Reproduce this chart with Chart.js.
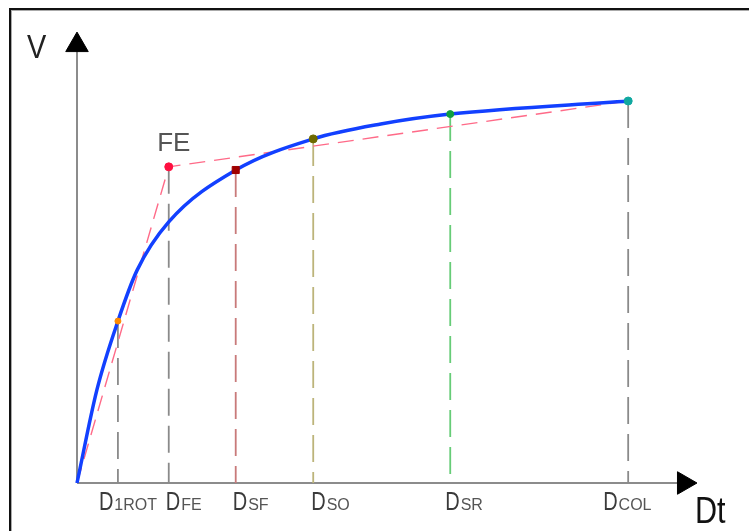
<!DOCTYPE html>
<html>
<head>
<meta charset="utf-8">
<script src="https://cdn.jsdelivr.net/npm/chart.js@4/dist/chart.umd.min.js"></script>
<style>
  html, body { margin: 0; padding: 0; background: #fff; }
  #wrap { position: relative; width: 749px; height: 531px; overflow: hidden; }
  #frame { position: absolute; left: 9px; top: 8px; width: 800px; height: 600px;
           border-top: 2px solid #111; border-left: 2px solid #111; pointer-events: none;
           box-shadow: inset 1px 1px 0 #aaa; }
  canvas { position: absolute; left: 0; top: 0; }
</style>
</head>
<body>
<div id="wrap">
  <canvas id="c" width="749" height="531"></canvas>
  <div id="frame"></div>
</div>
<script>
// ---- data (x: displacement Dt, y: shear V, arbitrary units 0..100) ----
const stageNames = ['1ROT', 'FE', 'SF', 'SO', 'SR', 'COL'];
const stageX     = [6.6, 14.8, 25.6, 38.1, 60.2, 88.9];
const stageV     = [35.9, 70.1, 69.4, 76.3, 81.8, 84.7];

const curveX = [0, 3.2, 6.6, 9.7, 14.8, 25.6, 38.1, 49.0, 60.2, 88.9];
const curveV = [0, 20.6, 35.9, 47.2, 57.9, 69.4, 76.3, 79.6, 81.8, 84.7];

const bilinearX = [0, 14.8, 88.9];
const bilinearV = [0, 70.1, 84.7];

const axisLabelX = 'Dt';
const axisLabelY = 'V';
const peakLabel = 'FE';

// ---- styles ----
const pointColors = ['#ff8a00', '#ff1040', '#a00000', '#6e6a00', '#10a040', '#10a8a0'];
const pointStyles = ['circle', 'circle', 'rect', 'circle', 'circle', 'circle'];
const pointSizes  = [3, 4, 5, 4, 3.5, 4];
const dropColors  = ['#8a8a8a', '#8a8a8a', '#c87a7a', '#bcb47a', '#66cc77', '#8a8a8a'];

const toXY = (xs, ys) => xs.map((x, i) => ({ x, y: ys[i] }));

const datasets = [];
// markers (drawn on top)
datasets.push({
  data: toXY(stageX, stageV), showLine: false, clip: false,
  pointStyle: pointStyles, pointRadius: pointSizes,
  pointBackgroundColor: pointColors, pointBorderColor: pointColors, pointBorderWidth: 1
});
// capacity curve
datasets.push({
  data: toXY(curveX, curveV), showLine: true, clip: false,
  borderColor: '#1240ff', borderWidth: 3.5, pointRadius: 0,
  cubicInterpolationMode: 'monotone'
});
// bilinear idealisation
datasets.push({
  data: toXY(bilinearX, bilinearV), showLine: true, clip: false,
  borderColor: '#ff6a88', borderWidth: 1.4, borderDash: [16, 9], pointRadius: 0, tension: 0
});
// drop lines
stageX.forEach((sx, i) => {
  datasets.push({
    data: [{ x: sx, y: stageV[i] }, { x: sx, y: 0 }], showLine: true, clip: false,
    borderColor: dropColors[i], borderWidth: 1.8, borderDash: [27, 10], pointRadius: 0
  });
});
// axes with arrowheads
datasets.push({
  data: [{ x: 0, y: 0 }, { x: 97.9, y: 0 }], showLine: true, clip: false,
  borderColor: '#8c8c8c', borderWidth: 2,
  pointRadius: [0, 13], pointStyle: 'triangle', pointRotation: 90,
  pointBackgroundColor: '#000', pointBorderColor: '#000', pointBorderWidth: 1
});
datasets.push({
  data: [{ x: 0, y: 0 }, { x: 0, y: 97.1 }], showLine: true, clip: false,
  borderColor: '#8c8c8c', borderWidth: 2,
  pointRadius: [0, 13], pointStyle: 'triangle', pointRotation: 0,
  pointBackgroundColor: '#000', pointBorderColor: '#000', pointBorderWidth: 1
});

const labelOffsets = { '1ROT': -19, 'FE': -3, 'SF': -3, 'SO': -2, 'SR': -5, 'COL': -25 };

const textPlugin = {
  id: 'texts',
  afterDraw(chart) {
    const { ctx, scales: { x, y } } = chart;
    const x0 = x.getPixelForValue(0), y0 = y.getPixelForValue(0);
    ctx.save();
    ctx.textBaseline = 'alphabetic';
    ctx.textAlign = 'left';
    // tick labels D + subscript
    stageNames.forEach((name, i) => {
      const px = x.getPixelForValue(stageX[i]) + labelOffsets[name];
      const base = y0 + 27;
      ctx.save();
      ctx.translate(px, base);
      ctx.fillStyle = '#3a3a3a';
      ctx.font = '25px "Liberation Sans", Arial, sans-serif';
      ctx.save();
      ctx.scale(0.8, 1);
      ctx.fillText('D', 0, 0);
      ctx.restore();
      const w = ctx.measureText('D').width * 0.8;
      ctx.fillStyle = '#555';
      ctx.font = '16px "Liberation Sans", Arial, sans-serif';
      ctx.fillText(name, w + 1, 0);
      ctx.restore();
    });
    // axis titles
    ctx.fillStyle = '#111';
    ctx.save();
    ctx.translate(x.getPixelForValue(100) - 2, y0 + 40);
    ctx.scale(0.85, 1);
    ctx.font = '36px "Liberation Sans", Arial, sans-serif';
    ctx.fillText(axisLabelX, 0, 0);
    ctx.restore();
    ctx.save();
    ctx.translate(x0 - 50, y.getPixelForValue(100) + 26);
    ctx.scale(0.85, 1);
    ctx.font = '34px "Liberation Sans", Arial, sans-serif';
    ctx.fillStyle = '#222';
    ctx.fillText(axisLabelY, 0, 0);
    ctx.restore();
    // FE label
    const fi = stageNames.indexOf('FE');
    ctx.fillStyle = '#555';
    ctx.font = '26px "Liberation Sans", Arial, sans-serif';
    ctx.textAlign = 'center';
    ctx.fillText(peakLabel, x.getPixelForValue(stageX[fi]) + 5, y.getPixelForValue(stageV[fi]) - 16);
    ctx.restore();
  }
};

new Chart(document.getElementById('c'), {
  type: 'scatter',
  data: { datasets },
  options: {
    responsive: false,
    animation: false,
    events: [],
    layout: { padding: { left: 77, right: 52, top: 32, bottom: 48 } },
    plugins: { legend: { display: false }, tooltip: { enabled: false } },
    scales: {
      x: { type: 'linear', min: 0, max: 100, display: false },
      y: { type: 'linear', min: 0, max: 100, display: false }
    }
  },
  plugins: [textPlugin]
});
</script>
</body>
</html>
